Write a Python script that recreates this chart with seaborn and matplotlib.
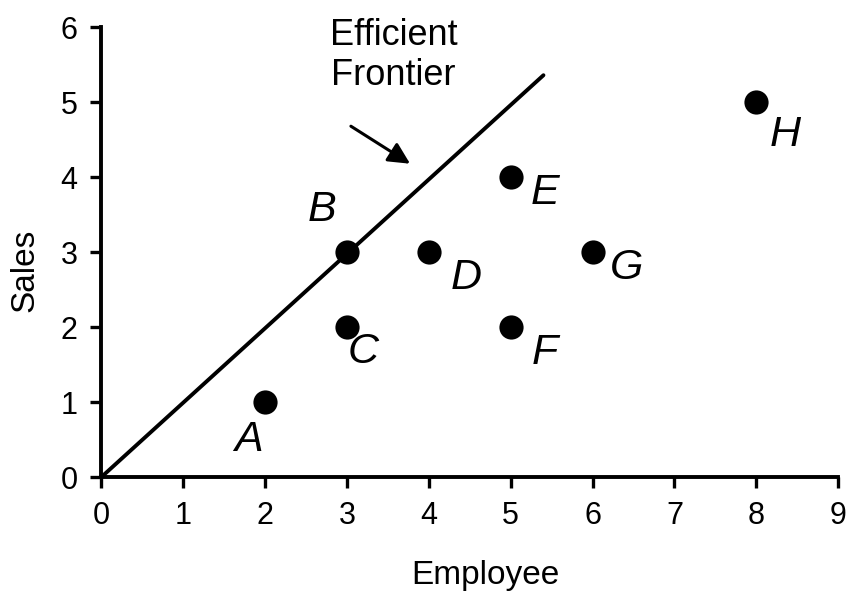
import matplotlib
matplotlib.use("Agg")
import matplotlib.pyplot as plt
import seaborn as sns
import pandas as pd

names = ["A", "B", "C", "D", "E", "F", "G", "H"]
employee = [2, 3, 3, 4, 5, 5, 6, 8]
sales = [1, 3, 2, 3, 4, 2, 3, 5]
label_x = [1.8, 2.7, 3.2, 4.46, 5.42, 5.42, 6.41, 8.35]
label_y = [0.49, 3.56, 1.67, 2.65, 3.79, 1.65, 2.79, 4.56]
frontier_x = [0, 5.4]
frontier_y = [0, 5.36]
x_ticks = list(range(0, 10))
y_ticks = list(range(0, 7))

sns.set_style("white")
plt.rcParams["font.family"] = ["Liberation Sans", "DejaVu Sans"]
plt.rcParams["text.color"] = "black"
plt.rcParams["axes.labelcolor"] = "black"
plt.rcParams["xtick.color"] = "black"
plt.rcParams["ytick.color"] = "black"

fig = plt.figure(figsize=(8.51, 5.92), dpi=100)
ax = fig.add_axes([0.119, 0.194, 0.866, 0.76])

df = pd.DataFrame({"Employee": employee, "Sales": sales})
sns.lineplot(x=frontier_x, y=frontier_y, ax=ax, color="black", lw=2.8)
sns.scatterplot(data=df, x="Employee", y="Sales", ax=ax, color="black",
                s=260, edgecolor="black", zorder=3)

for n, lx, ly in zip(names, label_x, label_y):
    ax.text(lx, ly, n, fontsize=31, fontstyle="italic", ha="center", va="center",
            color="black")

ax.text(3.57, 5.62, "Efficient\nFrontier", fontsize=26, ha="center", va="center",
        multialignment="center", linespacing=1.2, color="black")
ax.annotate("", xy=(3.8, 4.16), xytext=(3.02, 4.7),
            arrowprops=dict(arrowstyle="-|>,head_length=1.3,head_width=0.65",
                            color="black", lw=2.2))

ax.set_xlim(0, 9)
ax.set_ylim(0, 6)
ax.set_xticks(x_ticks)
ax.set_yticks(y_ticks)
ax.tick_params(axis="both", direction="out", length=8, width=2.4,
               labelsize=22, color="black", labelcolor="black", pad=9,
               bottom=True, left=True)
for s in ["top", "right"]:
    ax.spines[s].set_visible(False)
for s in ["left", "bottom"]:
    ax.spines[s].set_linewidth(2.8)
    ax.spines[s].set_color("black")
ax.set_xlabel("Employee", fontsize=24, color="black")
ax.set_ylabel("Sales", fontsize=24, color="black")
ax.xaxis.set_label_coords(0.521, -0.218)
ax.yaxis.set_label_coords(-0.103, 0.46)
ax.xaxis.label.set_va("center")
ax.yaxis.label.set_va("center")

fig.savefig("out.png", dpi=100)
